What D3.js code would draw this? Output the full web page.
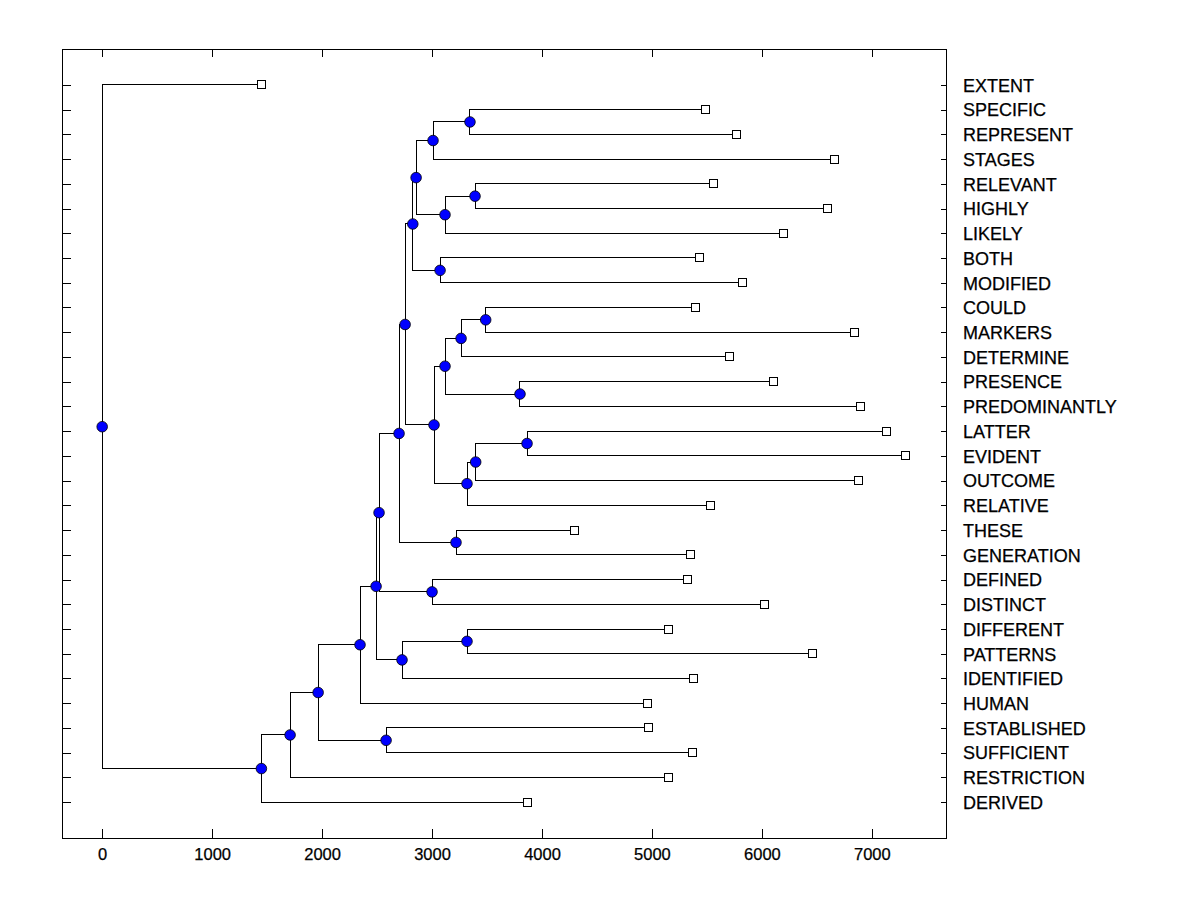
<!DOCTYPE html>
<html>
<head>
<meta charset="utf-8">
<script src="https://cdn.jsdelivr.net/npm/d3@7"></script>
<style>
  html, body { margin: 0; padding: 0; background: #fff; }
  svg { display: block; }
  text { font-family: 'Liberation Sans', Arial, sans-serif; fill: #000; }
</style>
</head>
<body>
<svg id="chart" width="1200" height="900"></svg>
<script>
// Leaves, top to bottom
const leafNames = ["EXTENT","SPECIFIC","REPRESENT","STAGES","RELEVANT","HIGHLY","LIKELY","BOTH","MODIFIED",
  "COULD","MARKERS","DETERMINE","PRESENCE","PREDOMINANTLY","LATTER","EVIDENT","OUTCOME","RELATIVE",
  "THESE","GENERATION","DEFINED","DISTINCT","DIFFERENT","PATTERNS","IDENTIFIED","HUMAN",
  "ESTABLISHED","SUFFICIENT","RESTRICTION","DERIVED"];
const leafValues = [1445,5491,5773,6664,5564,6600,6200,5436,5827,
  5400,6845,5709,6109,6900,7136,7309,6882,5536,
  4300,5352,5327,6027,5155,6464,5382,4964,
  4973,5373,5155,3864];

// Internal merges (children are leaf names or node ids)
const nodeIds    = ["A","B","C","D","E","F","G","H","I","J","K","L","M","N","O","P","Q","R","S","W","T","U","X","Y","V","Z","AA","BB","ROOT"];
const nodeLeft   = ["SPECIFIC","A","RELEVANT","C","B","BOTH","E","COULD","H","PRESENCE","I","LATTER","L","M","K","G","THESE","P","DEFINED","R","DIFFERENT","T","W","X","ESTABLISHED","Y","Z","AA","EXTENT"];
const nodeRight  = ["REPRESENT","STAGES","HIGHLY","LIKELY","D","MODIFIED","F","MARKERS","DETERMINE","PREDOMINANTLY","J","EVIDENT","OUTCOME","RELATIVE","N","O","GENERATION","Q","DISTINCT","S","PATTERNS","IDENTIFIED","U","HUMAN","SUFFICIENT","V","RESTRICTION","DERIVED","BB"];
const nodeHeight = [3345,3009,3391,3118,2855,3073,2825,3488,3264,3800,3118,3864,3397,3318,3018,2755,3218,2700,3000,2518,3318,2727,2491,2345,2582,1964,1709,1448,0];

const xTicks = [0,1000,2000,3000,4000,5000,6000,7000];

// Layout
const L = 62, R = 946, T = 49, B = 838;
const svg = d3.select("#chart");

const maxV = d3.max(leafValues);
const x = d3.scaleLinear().domain([-0.05 * maxV, 1.05 * maxV]).range([L, R]);
const n = leafNames.length;
const y = d3.scaleLinear().domain([-0.05 * (n - 1), (n - 1) * 1.05]).range([T, B]);

// positions
const pos = {};
leafNames.forEach((nm, i) => { pos[nm] = { v: leafValues[i], i: i }; });
nodeIds.forEach((id, k) => {
  const a = pos[nodeLeft[k]], b = pos[nodeRight[k]];
  pos[id] = { v: nodeHeight[k], i: (a.i + b.i) / 2 };
});

// frame
svg.append("rect").attr("x", L).attr("y", T).attr("width", R - L).attr("height", B - T)
  .attr("fill", "none").attr("stroke", "#000").attr("stroke-width", 1).attr("shape-rendering", "crispEdges");

// axes
const axB = svg.append("g").attr("transform", `translate(0,${B})`)
  .call(d3.axisBottom(x).tickValues(xTicks).tickFormat(d3.format("d")).tickSizeInner(-9).tickSizeOuter(0).tickPadding(10));
const axT = svg.append("g").attr("transform", `translate(0,${T})`)
  .call(d3.axisTop(x).tickValues(xTicks).tickFormat("").tickSizeInner(-8).tickSizeOuter(0));
const idx = d3.range(n);
const axL = svg.append("g").attr("transform", `translate(${L},0)`)
  .call(d3.axisLeft(y).tickValues(idx).tickFormat("").tickSizeInner(-9).tickSizeOuter(0));
const axR = svg.append("g").attr("transform", `translate(${R},0)`)
  .call(d3.axisRight(y).tickValues(idx).tickFormat(i => leafNames[i]).tickSizeInner(-5).tickSizeOuter(0).tickPadding(17));

[axB, axT, axL, axR].forEach(g => {
  g.select(".domain").remove();
  g.selectAll("line").attr("stroke", "#000").attr("shape-rendering", "crispEdges");
});
axB.selectAll("text").attr("font-size", "16.5px").attr("font-family", "'Liberation Sans', Arial, sans-serif")
  .attr("fill", "#000").attr("stroke", "#000").attr("stroke-width", 0.25);
axR.selectAll("text").attr("font-size", "18px").attr("font-family", "'Liberation Sans', Arial, sans-serif")
  .attr("fill", "#000").attr("stroke", "#000").attr("stroke-width", 0.25).attr("dy", "0.35em");

// branches
const gLines = svg.append("g").attr("stroke", "#000").attr("stroke-width", 1).attr("fill", "none").attr("shape-rendering", "crispEdges");
nodeIds.forEach((id, k) => {
  const p = pos[id], a = pos[nodeLeft[k]], b = pos[nodeRight[k]];
  const path = d3.path();
  path.moveTo(x(a.v), y(a.i));
  path.lineTo(x(p.v), y(a.i));
  path.lineTo(x(p.v), y(b.i));
  path.lineTo(x(b.v), y(b.i));
  gLines.append("path").attr("d", path.toString());
});

// leaves as squares
svg.append("g").selectAll("rect").data(leafNames).join("rect")
  .attr("x", d => x(pos[d].v) - 4).attr("y", d => y(pos[d].i) - 4)
  .attr("width", 8).attr("height", 8)
  .attr("fill", "#fff").attr("stroke", "#000").attr("stroke-width", 1).attr("shape-rendering", "crispEdges");

// internal nodes as blue circles
svg.append("g").selectAll("circle").data(nodeIds).join("circle")
  .attr("cx", d => x(pos[d].v)).attr("cy", d => y(pos[d].i)).attr("r", 5.3)
  .attr("fill", "#0000ff").attr("stroke", "#000").attr("stroke-width", 0.8);
</script>
</body>
</html>
